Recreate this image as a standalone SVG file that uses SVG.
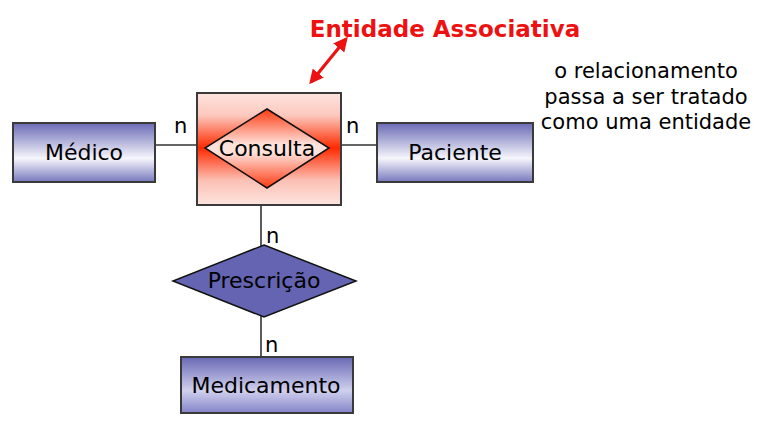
<svg xmlns="http://www.w3.org/2000/svg" width="766" height="423" viewBox="0 0 766 423">
<style>
.t{font-family:"Comic Sans MS","DejaVu Sans",sans-serif;font-size:22px;fill:#000;text-anchor:middle}
.m{font-family:"Comic Sans MS","DejaVu Sans",sans-serif;font-size:21px;fill:#000;text-anchor:middle}
.n{font-family:"Comic Sans MS","DejaVu Sans",sans-serif;font-size:21px;fill:#000}
.box{stroke:#3a3a3a;stroke-width:2}
.dia{stroke:#111;stroke-width:1.5}
.ln{stroke:#333;stroke-width:1.6;fill:none}
</style>
<defs>
<linearGradient id="gBlue" x1="0" y1="0" x2="0" y2="1">
<stop offset="0" stop-color="#6a6ab6"/>
<stop offset="0.6" stop-color="#f6f6fc"/>
<stop offset="1" stop-color="#7878be"/>
</linearGradient>
<linearGradient id="gBlue2" x1="0" y1="0" x2="0" y2="1">
<stop offset="0" stop-color="#6868b4"/>
<stop offset="0.6" stop-color="#d0d0ee"/>
<stop offset="1" stop-color="#8484c8"/>
</linearGradient>
<linearGradient id="gSq" x1="0" y1="0" x2="0" y2="1">
<stop offset="0" stop-color="#fde4df"/>
<stop offset="0.2" stop-color="#fcc8bd"/>
<stop offset="0.49" stop-color="#ff2a00"/>
<stop offset="0.78" stop-color="#fcc0b4"/>
<stop offset="1" stop-color="#fde4df"/>
</linearGradient>
<linearGradient id="gDia" x1="0" y1="0" x2="0" y2="1">
<stop offset="0" stop-color="#ff3a10"/>
<stop offset="0.45" stop-color="#fde2dc"/>
<stop offset="0.55" stop-color="#fde2dc"/>
<stop offset="1" stop-color="#ff3a10"/>
</linearGradient>
<marker id="ah" viewBox="0 0 10 10" refX="8" refY="5" markerWidth="4.5" markerHeight="4.5" orient="auto-start-reverse">
<path d="M0,0 L10,5 L0,10 z" fill="#ee1111"/>
</marker>
</defs>

<g id="connectors">
<line class="ln" x1="155" y1="145" x2="205" y2="145"/>
<line class="ln" x1="329" y1="145" x2="377" y2="145"/>
<line class="ln" x1="261" y1="205" x2="261" y2="246"/>
<line class="ln" x1="261" y1="316" x2="261" y2="357"/>
<line x1="311" y1="82" x2="346" y2="39" stroke="#ee1111" stroke-width="3.2" marker-start="url(#ah)" marker-end="url(#ah)"/>
<text class="n" x="174" y="133">n</text>
<text class="n" x="346" y="133">n</text>
<text class="n" x="266" y="243">n</text>
<text class="n" x="265" y="352">n</text>
</g>

<g id="title">
<text x="445" y="37" font-family="'Comic Sans MS','DejaVu Sans',sans-serif" font-size="23" font-weight="bold" fill="#ee1111" text-anchor="middle">Entidade Associativa</text>
</g>

<g id="note">
<text class="m" x="646" y="78">o relacionamento</text>
<text class="m" x="646" y="104">passa a ser tratado</text>
<text class="m" x="646" y="129">como uma entidade</text>
</g>

<g id="medico">
<rect class="box" x="13" y="123" width="142" height="59" fill="url(#gBlue)"/>
<text class="t" x="84" y="160">Médico</text>
</g>

<g id="paciente">
<rect class="box" x="377" y="123" width="156" height="59" fill="url(#gBlue)"/>
<text class="t" x="455" y="160">Paciente</text>
</g>

<g id="consulta">
<rect class="box" x="197" y="93" width="144" height="112" fill="url(#gSq)"/>
<polygon class="dia" points="267,109 329,148 267,188 205,148" fill="url(#gDia)"/>
<text class="t" x="267" y="156">Consulta</text>
</g>

<g id="prescricao">
<polygon class="dia" points="264,245 356,281 264,317 173,281" fill="#6464b2"/>
<text class="t" x="264" y="288">Prescrição</text>
</g>

<g id="medicamento">
<rect class="box" x="181" y="357" width="172" height="56" fill="url(#gBlue2)"/>
<text class="t" x="266" y="393">Medicamento</text>
</g>
</svg>
